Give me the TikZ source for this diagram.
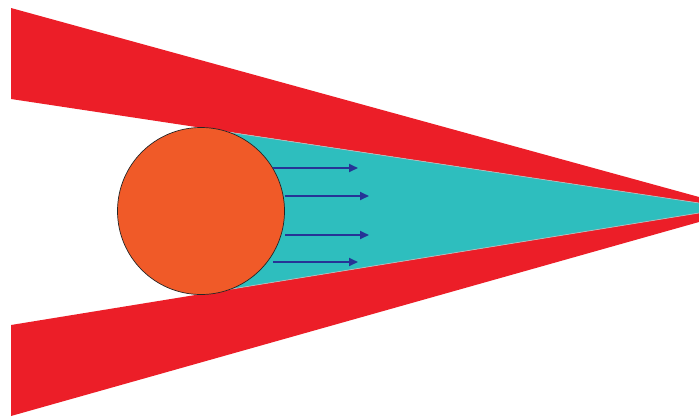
\documentclass[tikz,border=0pt]{standalone}
\usetikzlibrary{arrows.meta}
\definecolor{wedgered}{RGB}{236,30,40}
\definecolor{ballorange}{RGB}{240,90,40}
\definecolor{flowcyan}{RGB}{46,190,190}
\definecolor{arrowblue}{RGB}{38,52,150}
\begin{document}
\begin{tikzpicture}[x=1pt,y=-1pt,
  flow/.style={arrowblue, line width=1.8pt, -{Triangle[length=9pt,width=8pt]}},
  edgeline/.style={gray!55, line width=0.7pt}]
\useasboundingbox (0,0) rectangle (699,416);
% red wedges
\fill[wedgered] (11,8) -- (699,197) -- (699,203) -- (11,99) -- cycle;
\fill[wedgered] (11,325) -- (699,213) -- (699,222) -- (11,416) -- cycle;
% cyan region
\fill[flowcyan] (201,128) -- (699,203) -- (699,213) -- (201,294) -- cycle;
\draw[edgeline] (201,128) -- (699,203);
\draw[edgeline] (201,294) -- (699,213);
% ball
\filldraw[fill=ballorange, draw=black!85, line width=0.7pt] (201,211) circle (83.5pt);
% arrows
\draw[flow] (273,168) -- (358,168);
\draw[flow] (285,196) -- (369,196);
\draw[flow] (285,235) -- (369,235);
\draw[flow] (273,262) -- (358,262);
\end{tikzpicture}
\end{document}
